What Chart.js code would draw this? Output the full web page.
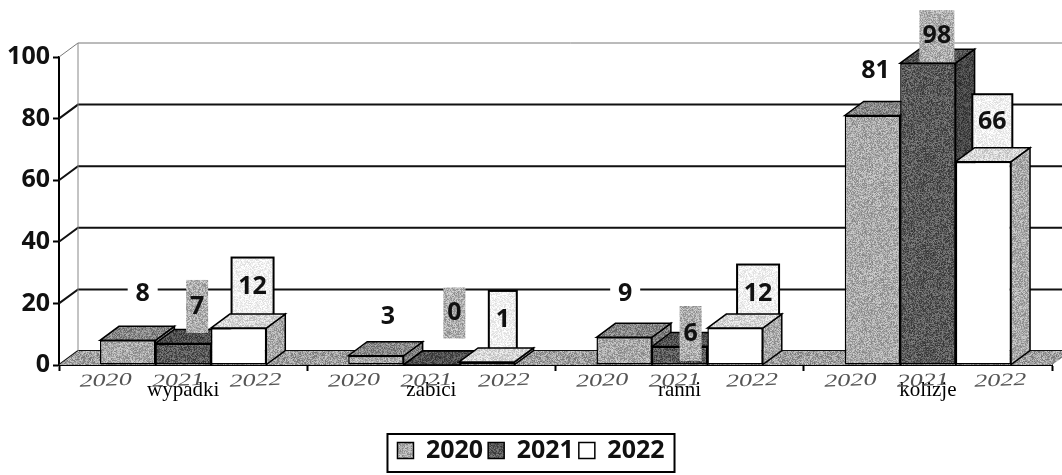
<!DOCTYPE html>
<html>
<head>
<meta charset="utf-8">
<style>
  html, body { margin: 0; padding: 0; background: #fff; }
  canvas { display: block; }
</style>
<script src="https://cdn.jsdelivr.net/npm/chart.js@4"></script>
</head>
<body>
<canvas id="chart" width="1062" height="475"></canvas>
<script>
// Data
const categories = ['wypadki', 'zabici', 'ranni', 'kolizje'];
const seriesNames = ['2020', '2021', '2022'];
const values2020 = [8, 3, 9, 81];
const values2021 = [7, 0, 6, 98];
const values2022 = [12, 1, 12, 66];
const yTicks = [0, 20, 40, 60, 80, 100];

// Label placement relative to the head of each bar [dx, dy, boxW, boxH]
const labelPlace2020 = [[15, -46, 30, 30], [12, -39, 0, 0], [1, -43, 30, 30], [3, -45, 0, 0]];
const labelPlace2021 = [[14, -37, 22, 53], [23, -52, 22, 51], [11, -13, 22, 55], [9, -27, 35, 52]];
const labelPlace2022 = [[14, -40, 42, 61], [16, -41, 28, 60], [23, -33, 42, 61], [9, -39, 40, 57]];

const DEPTH_X = 19;
const DEPTH_Y = -14;
const FONT = '"Open Sans", sans-serif';

// Scanned-print grain, returned as a fill pattern
function grain(base, amp) {
    const tile = document.createElement('canvas');
    tile.width = tile.height = 97;
    const c = tile.getContext('2d');
    const img = c.createImageData(97, 97);
    let s = 12345 + base;
    for (let i = 0; i < img.data.length; i += 4) {
        s = (s * 1103515245 + 12345) & 0x7fffffff;
        const g = Math.max(0, Math.min(255, base + ((s >> 16) % 256 - 128) / 128 * amp));
        img.data[i] = img.data[i + 1] = img.data[i + 2] = g;
        img.data[i + 3] = 255;
    }
    c.putImageData(img, 0, 0);
    return c.createPattern(tile, 'repeat');
}
const canvas = document.getElementById('chart');

const fronts = [grain(170, 40), grain(90, 40), '#ffffff'];
const tops = [grain(135, 40), grain(80, 35), grain(215, 30)];
const sides = [grain(125, 40), grain(70, 30), grain(170, 40)];
const floorFill = grain(160, 45);
const grayBox = grain(175, 40);
const whiteBox = grain(240, 20);

function poly(ctx, pts, fill, stroke, width) {
    ctx.beginPath();
    pts.forEach((p, i) => i ? ctx.lineTo(p[0], p[1]) : ctx.moveTo(p[0], p[1]));
    ctx.closePath();
    ctx.fillStyle = fill;
    ctx.fill();
    if (stroke) {
        ctx.strokeStyle = stroke;
        ctx.lineWidth = width;
        ctx.stroke();
    }
}

function drawLabel(chart, s, i) {
    const ctx = chart.ctx;
    const bar = chart.getDatasetMeta(s).data[i];
    const place = [labelPlace2020, labelPlace2021, labelPlace2022][s][i];
    const cx = bar.x + place[0];
    const cy = bar.y + place[1];
    if (place[2]) {
        ctx.fillStyle = s === 0 ? '#fff' : s === 1 ? grayBox : whiteBox;
        ctx.fillRect(cx - place[2] / 2, cy - place[3] / 2, place[2], place[3]);
        if (s === 2) {
            ctx.strokeStyle = '#000';
            ctx.lineWidth = 2;
            ctx.strokeRect(cx - place[2] / 2, cy - place[3] / 2, place[2], place[3]);
        }
    }
    ctx.fillStyle = '#111';
    ctx.font = 'bold 25px ' + FONT;
    ctx.textAlign = 'center';
    ctx.textBaseline = 'middle';
    ctx.fillText(String(chart.data.datasets[s].data[i]), cx, cy - (s === 2 ? 1 : 0));
}

// Back wall, floor and the 3D faces of the bars
const depthPlugin = {
    id: 'depth',
    afterLayout(chart) {
        // the legend sits a little right of the page centre
        chart.legend.left += 5;
        chart.legend.right += 5;
    },
    beforeDatasetsDraw(chart) {
        const ctx = chart.ctx;
        const yScale = chart.scales.y;
        const area = chart.chartArea;
        ctx.save();
        // wall
        yTicks.forEach(t => {
            const y = yScale.getPixelForValue(t);
            const top = t === 100;
            ctx.strokeStyle = top ? '#777' : '#111';
            ctx.lineWidth = top ? 1 : 2;
            ctx.beginPath();
            ctx.moveTo(area.left, y);
            ctx.lineTo(area.left + DEPTH_X, y + DEPTH_Y);
            ctx.lineTo(area.right + DEPTH_X, y + DEPTH_Y);
            ctx.stroke();
        });
        ctx.strokeStyle = '#888';
        ctx.lineWidth = 1;
        ctx.beginPath();
        ctx.moveTo(area.left + DEPTH_X, area.top + DEPTH_Y);
        ctx.lineTo(area.left + DEPTH_X, area.bottom + DEPTH_Y);
        ctx.stroke();
        // floor
        poly(ctx, [
            [area.left, area.bottom],
            [area.left + DEPTH_X, area.bottom + DEPTH_Y],
            [area.right + DEPTH_X, area.bottom + DEPTH_Y],
            [area.right, area.bottom]
        ], floorFill);
        // bar tops and sides, left to right
        categories.forEach((name, i) => {
            seriesNames.forEach((year, s) => {
                if (s === 2) drawLabel(chart, s, i);
                const bar = chart.getDatasetMeta(s).data[i];
                const w = bar.width / 2;
                const l = bar.x - w, r = bar.x + w, t = bar.y, b = bar.base;
                poly(ctx, [[r, t], [r + DEPTH_X, t + DEPTH_Y], [r + DEPTH_X, b + DEPTH_Y], [r, b]], sides[s], '#000', 1.5);
                poly(ctx, [[l, t], [l + DEPTH_X, t + DEPTH_Y], [r + DEPTH_X, t + DEPTH_Y], [r, t]], tops[s], '#000', 1.5);
            });
        });
        ctx.restore();
    },
    afterDatasetsDraw(chart) {
        const ctx = chart.ctx;
        ctx.save();
        categories.forEach((name, i) => {
            drawLabel(chart, 0, i);
            drawLabel(chart, 1, i);
        });
        ctx.restore();
    },
    afterDraw(chart) {
        const ctx = chart.ctx;
        const bottom = chart.chartArea.bottom;
        const nudge = [-22, -5, 17];
        ctx.save();
        // pencilled years under the bars
        categories.forEach((name, i) => {
            seriesNames.forEach((year, s) => {
                const bar = chart.getDatasetMeta(s).data[i];
                ctx.save();
                ctx.translate(bar.x + nudge[s], bottom + 16);
                ctx.rotate(-0.04);
                ctx.scale(1.45, 1);
                ctx.font = 'italic 18px "Liberation Serif", serif';
                ctx.fillStyle = '#555';
                ctx.textAlign = 'center';
                ctx.textBaseline = 'middle';
                ctx.fillText(year, 0, 0);
                ctx.restore();
            });
        });
        // legend frame, fitted round the items
        const lg = chart.legend;
        const pad = lg.options.labels.padding;
        const lineW = lg.lineWidths[0];
        const frameLeft = (lg.left + lg.right) / 2 + pad / 2 - lineW / 2 - 10;
        ctx.strokeStyle = '#000';
        ctx.lineWidth = 2;
        ctx.strokeRect(frameLeft, lg.top + 1, lineW - pad + 20, lg.height - 2);
        ctx.restore();
    }
};

new Chart(canvas, {
    type: 'bar',
    data: {
        labels: categories,
        datasets: [values2020, values2021, values2022].map((values, s) => ({
            label: seriesNames[s],
            data: values,
            backgroundColor: fronts[s],
            borderColor: '#000',
            borderWidth: 1.5,
            borderSkipped: false,
            categoryPercentage: 0.67,
            barPercentage: 1
        }))
    },
    options: {
        responsive: false,
        animation: false,
        devicePixelRatio: 1,
        layout: { padding: { top: 57, right: 10, bottom: 2, left: 0 } },
        plugins: {
            title: { display: false },
            tooltip: { enabled: false },
            legend: {
                position: 'bottom',
                labels: {
                    boxWidth: 16,
                    boxHeight: 16,
                    padding: 5,
                    color: '#111',
                    font: { family: FONT, size: 25, weight: 'bold' }
                }
            }
        },
        scales: {
            x: {
                afterFit(scale) { scale.height = 68; },
                grid: { drawOnChartArea: false, color: '#000', tickLength: 6, tickWidth: 2 },
                border: { color: '#000', width: 2 },
                ticks: {
                    color: '#000',
                    padding: 7,
                    font: { family: '"Liberation Serif", serif', size: 21 }
                }
            },
            y: {
                min: 0,
                max: 100,
                afterFit(scale) { scale.width = 59; },
                afterBuildTicks(scale) { scale.ticks = yTicks.map(v => ({ value: v })); },
                grid: { drawOnChartArea: false, color: '#000', tickLength: 6, tickWidth: 2 },
                border: { color: '#000', width: 2 },
                ticks: {
                    color: '#111',
                    padding: 3,
                    font: { family: FONT, size: 25, weight: 'bold' }
                }
            }
        }
    },
    plugins: [depthPlugin]
});
</script>
</body>
</html>
